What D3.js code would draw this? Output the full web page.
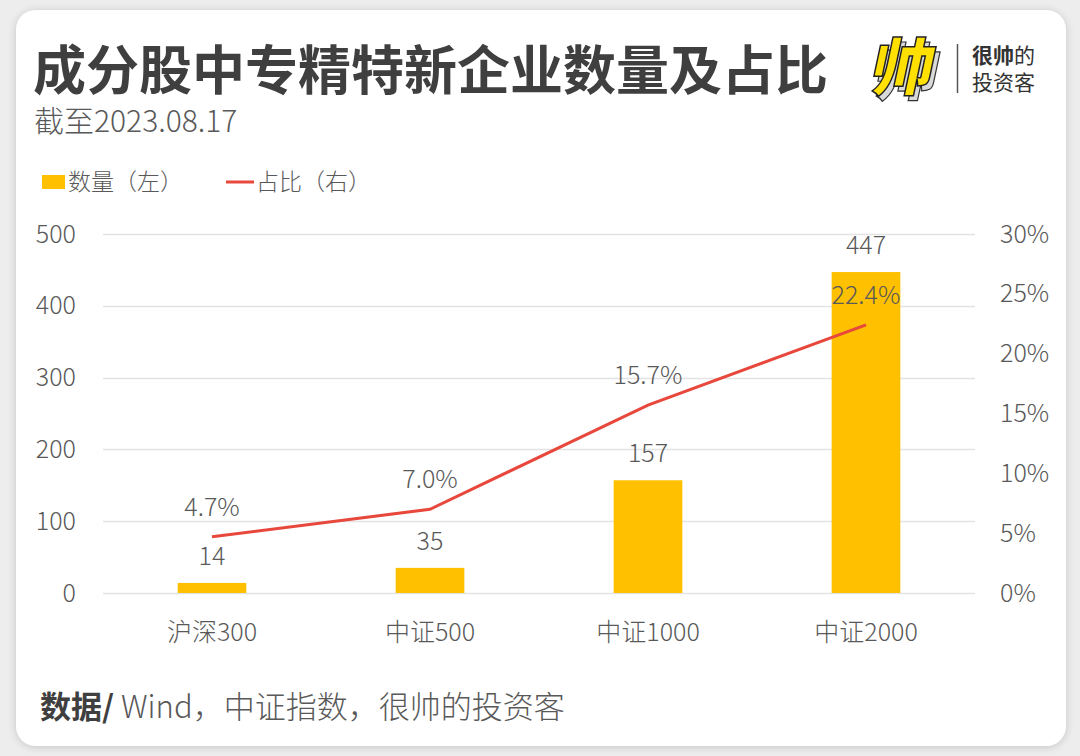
<!DOCTYPE html>
<html>
<head>
<meta charset="utf-8">
<script src="https://cdn.jsdelivr.net/npm/d3@7"></script>
<style>
  body { margin: 0; background: #ededed; }
  svg { display: block; font-family: "Noto Sans CJK SC", "Noto Sans", sans-serif; font-weight: 300;
        text-spacing-trim: space-all; font-kerning: none; }
</style>
</head>
<body>
<svg id="chart" width="1080" height="756"></svg>
<script>
// data
const categories = ["沪深300", "中证500", "中证1000", "中证2000"];
const counts = [14, 35, 157, 447];
const shares = [4.7, 7.0, 15.7, 22.4];
const leftTicks = [0, 100, 200, 300, 400, 500];
const rightTicks = [0, 5, 10, 15, 20, 25, 30];

const width = 1080, height = 756;
const margin = {top: 234, right: 105, bottom: 163, left: 103};
const textColor = "#595959";

const svg = d3.select("#chart");

// card with soft shadow
const defs = svg.append("defs");
const f = defs.append("filter").attr("id", "shadow")
    .attr("x", "-5%").attr("y", "-5%").attr("width", "110%").attr("height", "110%");
f.append("feGaussianBlur").attr("in", "SourceAlpha").attr("stdDeviation", 4);
f.append("feOffset").attr("dx", 0).attr("dy", 1).attr("result", "b");
f.append("feComponentTransfer").append("feFuncA").attr("type", "linear").attr("slope", 0.18);
const fm = f.append("feMerge");
fm.append("feMergeNode");
fm.append("feMergeNode").attr("in", "SourceGraphic");

svg.append("rect")
    .attr("x", 16).attr("y", 10).attr("width", 1050).attr("height", 736)
    .attr("rx", 20).attr("fill", "#fff").attr("filter", "url(#shadow)");

// title
svg.append("text")
    .attr("x", 33).attr("y", 90)
    .attr("font-size", 53).attr("font-weight", 700).attr("fill", "#3f3f3f")
    .text("成分股中专精特新企业数量及占比");

svg.append("text")
    .attr("x", 34).attr("y", 132)
    .attr("font-size", 30).attr("fill", textColor)
    .text("截至2023.08.17");

// logo
const logo = svg.append("g").attr("transform", "translate(868,90)");
logo.append("text").attr("x", 5).attr("y", 5)
    .attr("font-size", 62).attr("font-weight", 900)
    .attr("fill", "#d9d9d9").attr("stroke", "#333").attr("stroke-width", 1.2)
    .attr("transform", "skewX(-12)")
    .text("帅");
logo.append("text").attr("x", 0).attr("y", 0)
    .attr("font-size", 62).attr("font-weight", 900)
    .attr("fill", "#ffe000").attr("stroke", "#222").attr("stroke-width", 1.5)
    .attr("transform", "skewX(-12)")
    .text("帅");
svg.append("line")
    .attr("x1", 957.5).attr("x2", 957.5).attr("y1", 44).attr("y2", 93)
    .attr("stroke", "#555").attr("stroke-width", 1.5);
const brand = svg.append("text").attr("x", 972).attr("y", 63)
    .attr("font-size", 21).attr("fill", "#333");
brand.append("tspan").attr("font-weight", 700).text("很帅");
brand.append("tspan").attr("font-weight", 400).text("的");
svg.append("text").attr("x", 972).attr("y", 90)
    .attr("font-size", 21).attr("font-weight", 400).attr("fill", "#333").text("投资客");

// legend
svg.append("rect").attr("x", 42).attr("y", 175).attr("width", 23).attr("height", 14)
    .attr("fill", "#ffc000");
svg.append("text").attr("x", 68).attr("y", 190)
    .attr("font-size", 23).attr("fill", textColor).text("数量（左）");
svg.append("line").attr("x1", 226).attr("x2", 254).attr("y1", 182).attr("y2", 182)
    .attr("stroke", "#e8473c").attr("stroke-width", 3);
svg.append("text").attr("x", 256).attr("y", 190)
    .attr("font-size", 23).attr("fill", textColor).text("占比（右）");

// scales
const x = d3.scaleBand()
    .domain(categories)
    .range([margin.left, width - margin.right])
    .paddingInner(0.685).paddingOuter(0.3425);

const y = d3.scaleLinear().domain([0, 500]).range([height - margin.bottom, margin.top]);
const y2 = d3.scaleLinear().domain([0, 30]).range([height - margin.bottom, margin.top]);

// gridlines
svg.append("g")
    .selectAll("line")
    .data(leftTicks)
    .join("line")
    .attr("x1", margin.left).attr("x2", width - margin.right)
    .attr("y1", d => Math.round(y(d)) + 0.5).attr("y2", d => Math.round(y(d)) + 0.5)
    .attr("stroke", "#e3e3e3").attr("stroke-width", 1.5);

// left axis
const leftAxis = svg.append("g")
    .attr("transform", `translate(76,0)`)
    .call(d3.axisLeft(y).tickValues(leftTicks).tickSize(0).tickPadding(0));
leftAxis.select(".domain").remove();
leftAxis.selectAll("text").attr("font-size", 25).attr("fill", textColor)
    .attr("font-family", "Noto Sans CJK SC");

// right axis
const rightAxis = svg.append("g")
    .attr("transform", `translate(1000,0)`)
    .call(d3.axisRight(y2).tickValues(rightTicks).tickSize(0).tickPadding(0)
        .tickFormat(d => d + "%"));
rightAxis.select(".domain").remove();
rightAxis.selectAll("text").attr("font-size", 25).attr("fill", textColor)
    .attr("font-family", "Noto Sans CJK SC");

// x axis labels
const xAxis = svg.append("g")
    .attr("transform", `translate(0,${height - margin.bottom + 30})`)
    .call(d3.axisBottom(x).tickSize(0).tickPadding(0));
xAxis.select(".domain").remove();
xAxis.selectAll("text").attr("font-size", 25).attr("fill", textColor)
    .attr("font-family", "Noto Sans CJK SC");

// bars
svg.append("g")
    .attr("fill", "#ffc000")
    .selectAll("rect")
    .data(counts)
    .join("rect")
    .attr("x", (d, i) => x(categories[i]))
    .attr("y", d => y(d))
    .attr("width", x.bandwidth())
    .attr("height", d => y(0) - y(d));

// bar value labels
svg.append("g")
    .selectAll("text")
    .data(counts)
    .join("text")
    .attr("x", (d, i) => x(categories[i]) + x.bandwidth() / 2)
    .attr("y", d => y(d) - 18)
    .attr("text-anchor", "middle")
    .attr("font-size", 25).attr("fill", textColor)
    .text(d => d);

// share line
const line = d3.line()
    .x((d, i) => x(categories[i]) + x.bandwidth() / 2)
    .y(d => y2(d));

svg.append("path")
    .datum(shares)
    .attr("fill", "none")
    .attr("stroke", "#e8473c")
    .attr("stroke-width", 3)
    .attr("d", line);

svg.append("g")
    .selectAll("text")
    .data(shares)
    .join("text")
    .attr("x", (d, i) => x(categories[i]) + x.bandwidth() / 2)
    .attr("y", d => y2(d) - 21)
    .attr("text-anchor", "middle")
    .attr("font-size", 25).attr("fill", textColor)
    .text(d => d.toFixed(1) + "%");

// source
const src = svg.append("text").attr("x", 40).attr("y", 718)
    .attr("font-size", 31).attr("fill", textColor);
src.append("tspan").attr("font-weight", 700).attr("fill", "#3f3f3f").text("数据/ ");
src.append("tspan").text("Wind，中证指数，很帅的投资客");
</script>
</body>
</html>
